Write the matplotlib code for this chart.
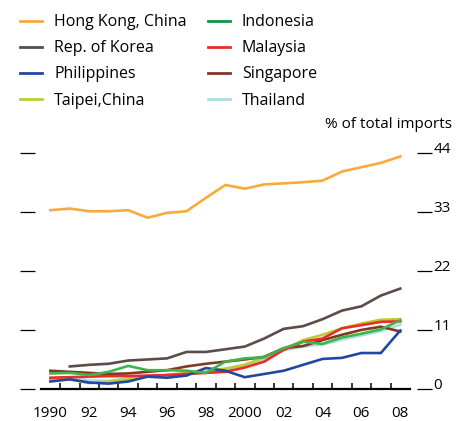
import numpy as np
import matplotlib
matplotlib.use("Agg")
import matplotlib.pyplot as plt
from matplotlib.lines import Line2D

plt.rcParams["font.family"] = ["Open Sans", "DejaVu Sans"]

years = list(range(1990, 2009))

hong_kong = [33.3, 33.6, 33.1, 33.1, 33.3, 31.9, 32.8, 33.1, 35.6, 38.0,
             37.3, 38.1, 38.3, 38.5, 38.8, 40.5, 41.3, 42.1, 43.3]
korea = [None, 4.2, 4.5, 4.7, 5.3, 5.5, 5.7, 6.9, 6.9, 7.4,
         7.9, 9.4, 11.2, 11.7, 13.0, 14.6, 15.4, 17.4, 18.7]
philippines = [1.4, 1.8, 1.2, 1.0, 1.4, 2.3, 2.1, 2.5, 3.9, 3.4,
               2.2, 2.8, 3.4, 4.5, 5.6, 5.8, 6.7, 6.7, 10.9]
taipei = [1.8, 1.8, 1.1, 1.4, 1.8, 2.3, 2.6, 3.0, 3.2, 3.8,
          4.5, 5.9, 7.3, 9.1, 10.1, 11.3, 12.2, 12.9, 13.0]
indonesia = [2.9, 3.0, 2.6, 3.2, 4.3, 3.5, 3.5, 3.4, 3.0, 5.1,
             5.7, 5.9, 7.6, 8.8, 8.4, 9.6, 10.3, 11.1, 12.8]
malaysia = [2.1, 2.2, 2.3, 2.4, 2.4, 2.5, 2.6, 2.8, 3.0, 3.2,
            4.0, 5.1, 7.3, 8.8, 9.4, 11.3, 11.9, 12.5, 12.6]
singapore = [3.4, 3.2, 3.0, 2.8, 2.9, 3.2, 3.5, 4.2, 4.7, 5.1,
             5.5, 6.0, 7.6, 8.0, 9.1, 10.1, 11.0, 11.6, 10.7]
thailand = [2.0, 2.2, 1.6, 1.5, 2.0, 2.4, 2.6, 2.9, 3.0, 3.6,
            4.5, 5.6, 7.2, 7.9, 8.3, 9.2, 10.0, 10.8, 12.0]

names = ["Hong Kong, China", "Rep. of Korea", "Philippines", "Taipei,China",
         "Indonesia", "Malaysia", "Singapore", "Thailand"]
series = [hong_kong, korea, philippines, taipei,
          indonesia, malaysia, singapore, thailand]
colors = ["#F9AA3C", "#5C4C47", "#2247A0", "#B8CF30",
          "#3DB54A", "#EE2A2A", "#7E3A22", "#ABDDE2"]
legend_colors = list(colors)
legend_colors[4] = "#159447"
# drawing order, bottom to top
zorder = [8, 7, 5, 2, 6, 4, 3, 1]

yticks = [0, 11, 22, 33, 44]
xlabels = ["1990", "92", "94", "96", "98", "2000", "02", "04", "06", "08"]

W, H = 470, 421
fig = plt.figure(figsize=(W / 100, H / 100), dpi=100)

left, right, base = 40.7, 410, 389
px_per_unit = 5.37
ymax = 48
ax = fig.add_axes([left / W, (H - base) / H, (right - left) / W,
                   ymax * px_per_unit / H])

for vals, c, z in zip(series, colors, zorder):
    v = np.array([np.nan if x is None else x for x in vals], dtype=float)
    ax.plot(years, v, color=c, lw=1.9, zorder=z, solid_joinstyle="miter")

ax.set_xlim(1989.5, 2008.5)
ax.set_ylim(0, ymax)

ax.spines["top"].set_visible(False)
ax.spines["bottom"].set_linewidth(1.6)
ax.spines["left"].set_position(("outward", 4.1))
ax.spines["right"].set_position(("outward", 5.0))
ax.spines["left"].set_color("none")
ax.spines["right"].set_color("none")

ax.set_yticks(yticks)
ax.tick_params(axis="y", left=True, right=True, direction="out",
               length=10.8, width=0.9, labelleft=False, labelright=False)

ax.set_xticks(years[::2])
ax.set_xticklabels(xlabels)
ax.set_xticks(np.arange(1990.5, 2008, 1), minor=True)
ax.tick_params(axis="x", which="major", length=0, pad=12.5, labelsize=11)
ax.tick_params(axis="x", which="minor", direction="in", length=4, width=1.1)

# value labels sit on top of the right-hand dashes
for t in yticks:
    ax.text(1 + 23.5 / (right - left), t, str(t),
            transform=ax.get_yaxis_transform(), fontsize=11,
            va="baseline", ha="left")

fig.text(452 / W, 1 - 128 / H, "% of total imports", ha="right",
         va="baseline", fontsize=11)

# two-column key above the plot
for i, (name, c) in enumerate(zip(names, legend_colors)):
    col, row = divmod(i, 4)
    x0 = [20, 208][col]
    y = 20.5 + 26.3 * row
    fig.add_artist(Line2D([x0 / W, (x0 + 22) / W], [1 - y / H, 1 - y / H],
                          color=c, lw=2.0))
    fig.text((x0 + 34) / W, 1 - (y + 5.3) / H, name, fontsize=11.5,
             va="baseline", ha="left")

fig.savefig("out.png", dpi=100)
